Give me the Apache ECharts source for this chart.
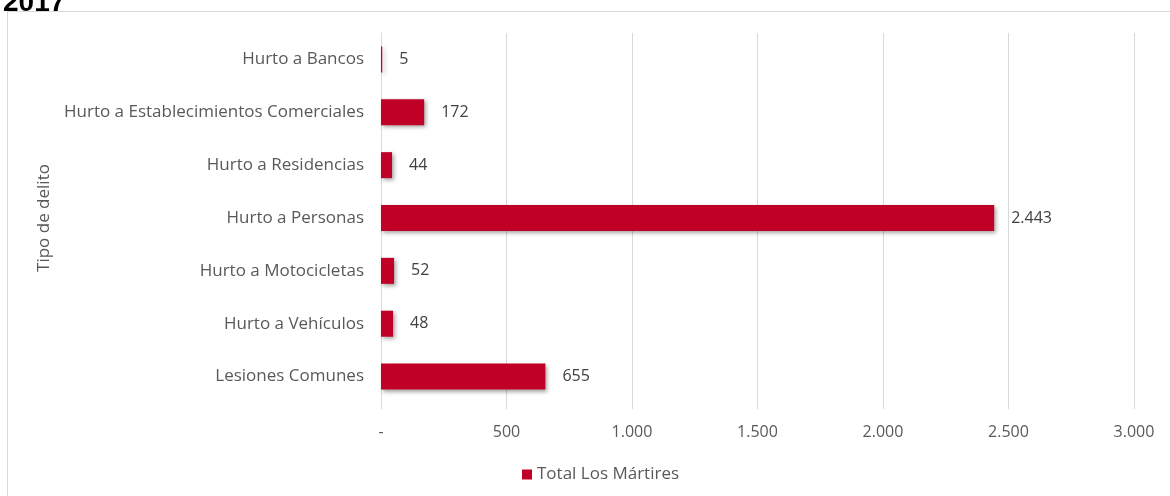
<!DOCTYPE html>
<html>
<head>
<meta charset="utf-8">
<script src="https://cdn.jsdelivr.net/npm/echarts@6/dist/echarts.min.js"></script>
<style>
html,body{margin:0;padding:0;background:#fff;}
#c{width:1170px;height:496px;}
</style>
</head>
<body>
<div id="c"></div>
<script>
const categories = ['Hurto a Bancos','Hurto a Establecimientos Comerciales','Hurto a Residencias','Hurto a Personas','Hurto a Motocicletas','Hurto a Vehículos','Lesiones Comunes'];
const values = [5,172,44,2443,52,48,655];
const seriesName = 'Total Los Mártires';
const yAxisName = 'Tipo de delito';
const titleText = '2017';

function fmt(v){
  if (v === 0) return '-';
  return String(v).replace(/\B(?=(\d{3})+(?!\d))/g, '.');
}
const font = '"Open Sans", Lato, sans-serif';
const chart = echarts.init(document.getElementById('c'));
chart.setOption({
  animation:false,
  title:{text:titleText,left:-2,top:-16,textStyle:{fontFamily:'Liberation Sans, Arial',fontWeight:'bold',fontSize:28,color:'#000'}},
  graphic:[{type:'rect',shape:{x:7.5,y:11.5,width:1200,height:600},style:{fill:null,stroke:'#d9d9d9',lineWidth:1},z:-1}],
  grid:{left:381,right:36,top:33,bottom:93},
  legend:{left:517,top:461,itemWidth:10,itemHeight:10,icon:'rect',itemGap:5,
    textStyle:{fontFamily:font,fontSize:17,color:'#595959'},data:[seriesName]},
  xAxis:{type:'value',min:0,max:3000,interval:500,
    axisLine:{show:false},
    axisTick:{show:true,length:6,lineStyle:{color:'#d9d9d9'}},
    splitLine:{show:true,lineStyle:{color:'#d9d9d9',width:1}},
    axisLabel:{formatter:fmt,margin:21,fontFamily:font,fontSize:16,color:'#595959'}},
  yAxis:{type:'category',inverse:true,data:categories,
    name:yAxisName,nameLocation:'middle',nameRotate:90,nameGap:322,
    nameTextStyle:{fontFamily:font,fontSize:17,color:'#595959'},
    axisLine:{show:true,lineStyle:{color:'#d9d9d9'}},
    axisTick:{show:false},
    axisLabel:{margin:17,fontFamily:font,fontSize:17,color:'#595959'}},
  series:[{name:seriesName,type:'bar',data:values,barWidth:26,
    itemStyle:{color:'#C00026',shadowColor:'rgba(0,0,0,0.35)',shadowBlur:4,shadowOffsetX:2,shadowOffsetY:2},
    label:{show:true,position:'right',distance:17,formatter:p=>fmt(p.value),fontFamily:font,fontSize:16,color:'#404040'}}]
});
</script>
</body>
</html>
